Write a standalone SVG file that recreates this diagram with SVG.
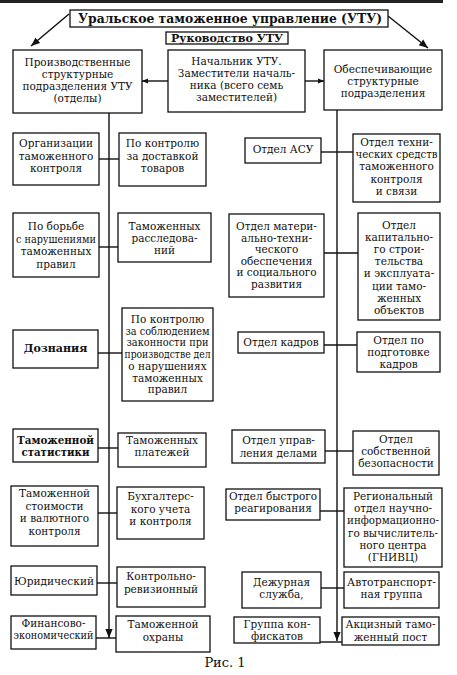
<svg xmlns="http://www.w3.org/2000/svg" width="457" height="675" viewBox="0 0 457 675">
<defs>
<style>
.b{fill:#fff;stroke:#111;stroke-width:1.3}
.t{font-family:"DejaVu Serif","Liberation Serif",serif;font-size:10.5px;text-anchor:middle;fill:#111}
.bold{font-weight:bold}
.c{fill:none;stroke:#111;stroke-width:1.4}
</style>
<marker id="ah" viewBox="0 0 10 10" refX="10" refY="5" markerWidth="9" markerHeight="9" markerUnits="userSpaceOnUse" orient="auto"><path d="M0,1 L10,5 L0,9 z" fill="#111"/></marker>
<marker id="ahs" viewBox="0 0 10 10" refX="10" refY="5" markerWidth="6" markerHeight="6" markerUnits="userSpaceOnUse" orient="auto"><path d="M0,1 L10,5 L0,9 z" fill="#111"/></marker>
</defs>
<rect width="457" height="675" fill="#fff"/>
<line x1="0" y1="1.5" x2="443" y2="1.5" stroke="#222" stroke-width="3"/>

<g id="connectors">
<line class="c" x1="69" y1="14" x2="31" y2="46" marker-end="url(#ah)"/>
<line class="c" x1="388" y1="16" x2="428" y2="48" marker-end="url(#ah)"/>
<line class="c" x1="168" y1="81" x2="142" y2="81" marker-end="url(#ahs)"/>
<line class="c" x1="305" y1="81" x2="324" y2="81" marker-end="url(#ahs)"/>
<line class="c" x1="109" y1="113" x2="109" y2="638" marker-end="url(#ah)"/>
<line class="c" x1="337" y1="110" x2="337" y2="641" marker-end="url(#ah)"/>
<line class="c" x1="99" y1="159" x2="119" y2="159"/>
<line class="c" x1="99" y1="247" x2="118" y2="247"/>
<line class="c" x1="98" y1="353" x2="122" y2="353"/>
<line class="c" x1="98" y1="448" x2="118" y2="448"/>
<line class="c" x1="98" y1="513" x2="117" y2="513"/>
<line class="c" x1="97" y1="583" x2="117" y2="583"/>
<line class="c" x1="96" y1="638" x2="116" y2="638"/>
<line class="c" x1="321" y1="152" x2="353" y2="152"/>
<line class="c" x1="324" y1="253" x2="358" y2="253"/>
<line class="c" x1="324" y1="345" x2="357" y2="345"/>
<line class="c" x1="325" y1="451" x2="353" y2="451"/>
<line class="c" x1="320" y1="511" x2="344" y2="511"/>
<line class="c" x1="321" y1="588" x2="344" y2="588"/>
<line class="c" x1="320" y1="642" x2="342" y2="642"/>
</g>

<g id="title"><rect class="b" x="70" y="10" width="318" height="17"/><text class="t bold" x="230" y="23" textLength="304" lengthAdjust="spacingAndGlyphs" style="font-size:13.5px">Уральское таможенное управление (УТУ)</text></g>
<g id="rukovodstvo"><rect class="b" x="166" y="32" width="122" height="12"/><text class="t bold" x="227" y="42" textLength="112" lengthAdjust="spacingAndGlyphs" style="font-size:11px">Руководство УТУ</text></g>

<g id="prod"><rect class="b" x="13" y="50" width="129" height="63"/><text class="t"><tspan x="77.5" y="66">Производственные</tspan><tspan x="77.5" y="78">структурные</tspan><tspan x="77.5" y="90">подразделения УТУ</tspan><tspan x="77.5" y="102">(отделы)</tspan></text></g>
<g id="nachalnik"><rect class="b" x="168" y="50" width="137" height="62"/><text class="t"><tspan x="236.5" y="65">Начальник УТУ.</tspan><tspan x="236.5" y="77">Заместители началь-</tspan><tspan x="236.5" y="89">ника (всего семь</tspan><tspan x="236.5" y="101">заместителей)</tspan></text></g>
<g id="obesp"><rect class="b" x="324" y="50" width="118" height="60"/><text class="t"><tspan x="383" y="73">Обеспечивающие</tspan><tspan x="383" y="85">структурные</tspan><tspan x="383" y="97">подразделения</tspan></text></g>

<g id="org"><rect class="b" x="13" y="133" width="86" height="52"/><text class="t"><tspan x="56" y="147">Организации</tspan><tspan x="56" y="159.5">таможенного</tspan><tspan x="56" y="172">контроля</tspan></text></g>
<g id="dostavka"><rect class="b" x="119" y="133" width="87" height="53"/><text class="t"><tspan x="162.5" y="147">По контролю</tspan><tspan x="162.5" y="159.5">за доставкой</tspan><tspan x="162.5" y="172">товаров</tspan></text></g>
<g id="borba"><rect class="b" x="13" y="213" width="86" height="64"/><text class="t"><tspan x="56" y="230">По борьбе</tspan><tspan x="56" y="242.5" textLength="80" lengthAdjust="spacingAndGlyphs">с нарушениями</tspan><tspan x="56" y="255">таможенных</tspan><tspan x="56" y="267.5">правил</tspan></text></g>
<g id="rassl"><rect class="b" x="118" y="213" width="93" height="49"/><text class="t"><tspan x="164.5" y="230">Таможенных</tspan><tspan x="164.5" y="242">расследова-</tspan><tspan x="164.5" y="254">ний</tspan></text></g>
<g id="dozn"><rect class="b" x="13" y="330" width="85" height="38"/><text class="t bold" x="55.5" y="352" style="font-size:11px">Дознания</text></g>
<g id="soblyud"><rect class="b" x="122" y="308" width="91" height="93"/><text class="t"><tspan x="167.5" y="323">По контролю</tspan><tspan x="167.5" y="334.7" textLength="84" lengthAdjust="spacingAndGlyphs">за соблюдением</tspan><tspan x="167.5" y="346.4" textLength="82" lengthAdjust="spacingAndGlyphs">законности при</tspan><tspan x="167.5" y="358.1" textLength="86" lengthAdjust="spacingAndGlyphs">производстве дел</tspan><tspan x="167.5" y="369.8">о нарушениях</tspan><tspan x="167.5" y="381.5">таможенных</tspan><tspan x="167.5" y="393.2">правил</tspan></text></g>
<g id="stat"><rect class="b" x="13" y="429" width="85" height="33"/><text class="t bold"><tspan x="55.5" y="444" textLength="77" lengthAdjust="spacingAndGlyphs">Таможенной</tspan><tspan x="55.5" y="456" textLength="68" lengthAdjust="spacingAndGlyphs">статистики</tspan></text></g>
<g id="plat"><rect class="b" x="118" y="433" width="88" height="34"/><text class="t"><tspan x="162" y="444">Таможенных</tspan><tspan x="162" y="456">платежей</tspan></text></g>
<g id="stoim"><rect class="b" x="11" y="486" width="87" height="60"/><text class="t"><tspan x="54.5" y="497">Таможенной</tspan><tspan x="54.5" y="509.5">стоимости</tspan><tspan x="54.5" y="522">и валютного</tspan><tspan x="54.5" y="534.5">контроля</tspan></text></g>
<g id="buh"><rect class="b" x="117" y="487" width="87" height="52"/><text class="t"><tspan x="160.5" y="500">Бухгалтерс-</tspan><tspan x="160.5" y="512.5">кого учета</tspan><tspan x="160.5" y="525">и контроля</tspan></text></g>
<g id="yur"><rect class="b" x="11" y="566" width="86" height="29"/><text class="t" x="54" y="585" textLength="80" lengthAdjust="spacingAndGlyphs">Юридический</text></g>
<g id="krev"><rect class="b" x="117" y="567" width="88" height="40"/><text class="t"><tspan x="161" y="580">Контрольно-</tspan><tspan x="161" y="593">ревизионный</tspan></text></g>
<g id="fin"><rect class="b" x="11" y="616" width="85" height="33"/><text class="t"><tspan x="53.5" y="627">Финансово-</tspan><tspan x="53.5" y="639" textLength="80" lengthAdjust="spacingAndGlyphs">экономический</tspan></text></g>
<g id="ohr"><rect class="b" x="116" y="616" width="94" height="36"/><text class="t"><tspan x="163" y="628">Таможенной</tspan><tspan x="163" y="641">охраны</tspan></text></g>

<g id="asu"><rect class="b" x="245" y="138" width="76" height="25"/><text class="t" x="283" y="153">Отдел АСУ</text></g>
<g id="tech"><rect class="b" x="353" y="134" width="87" height="68"/><text class="t"><tspan x="396.5" y="146">Отдел техни-</tspan><tspan x="396.5" y="158.2" textLength="82" lengthAdjust="spacingAndGlyphs">ческих средств</tspan><tspan x="396.5" y="170.4">таможенного</tspan><tspan x="396.5" y="182.6">контроля</tspan><tspan x="396.5" y="194.8">и связи</tspan></text></g>
<g id="mat"><rect class="b" x="229" y="214" width="95" height="83"/><text class="t"><tspan x="276.5" y="230">Отдел матери-</tspan><tspan x="276.5" y="241.6">ально-техни-</tspan><tspan x="276.5" y="253.2">ческого</tspan><tspan x="276.5" y="264.8">обеспечения</tspan><tspan x="276.5" y="276.4">и социального</tspan><tspan x="276.5" y="288">развития</tspan></text></g>
<g id="kap"><rect class="b" x="358" y="213" width="82" height="107"/><text class="t"><tspan x="399" y="229">Отдел</tspan><tspan x="399" y="241.1">капитально-</tspan><tspan x="399" y="253.2">го строи-</tspan><tspan x="399" y="265.3">тельства</tspan><tspan x="399" y="277.4">и эксплуата-</tspan><tspan x="399" y="289.5">ции тамо-</tspan><tspan x="399" y="301.6">женных</tspan><tspan x="399" y="313.7">объектов</tspan></text></g>
<g id="kadr"><rect class="b" x="238" y="332" width="86" height="21"/><text class="t" x="281" y="346">Отдел кадров</text></g>
<g id="podg"><rect class="b" x="357" y="332" width="83" height="40"/><text class="t"><tspan x="398.5" y="344">Отдел по</tspan><tspan x="398.5" y="356">подготовке</tspan><tspan x="398.5" y="368">кадров</tspan></text></g>
<g id="upr"><rect class="b" x="232" y="430" width="93" height="33"/><text class="t"><tspan x="278.5" y="444">Отдел управ-</tspan><tspan x="278.5" y="456.5">ления делами</tspan></text></g>
<g id="bez"><rect class="b" x="353" y="431" width="86" height="44"/><text class="t"><tspan x="396" y="443">Отдел</tspan><tspan x="396" y="455">собственной</tspan><tspan x="396" y="467">безопасности</tspan></text></g>
<g id="bystr"><rect class="b" x="226" y="489" width="94" height="31"/><text class="t"><tspan x="273" y="500" textLength="88" lengthAdjust="spacingAndGlyphs">Отдел быстрого</tspan><tspan x="273" y="512">реагирования</tspan></text></g>
<g id="gnivc"><rect class="b" x="344" y="488" width="98" height="79"/><text class="t"><tspan x="393" y="500">Региональный</tspan><tspan x="393" y="512.2">отдел научно-</tspan><tspan x="393" y="524.4" textLength="92" lengthAdjust="spacingAndGlyphs">информационно-</tspan><tspan x="393" y="536.6" textLength="90" lengthAdjust="spacingAndGlyphs">го вычислитель-</tspan><tspan x="393" y="548.8">ного центра</tspan><tspan x="393" y="561">(ГНИВЦ)</tspan></text></g>
<g id="dezh"><rect class="b" x="242" y="572" width="79" height="36"/><text class="t"><tspan x="281.5" y="586">Дежурная</tspan><tspan x="281.5" y="598">служба,</tspan></text></g>
<g id="avto"><rect class="b" x="344" y="572" width="95" height="36"/><text class="t"><tspan x="391.5" y="586" textLength="89" lengthAdjust="spacingAndGlyphs">Автотранспорт-</tspan><tspan x="391.5" y="598">ная группа</tspan></text></g>
<g id="konf"><rect class="b" x="234" y="617" width="86" height="26"/><text class="t"><tspan x="277" y="628">Группа кон-</tspan><tspan x="277" y="640">фискатов</tspan></text></g>
<g id="akc"><rect class="b" x="342" y="617" width="97" height="28"/><text class="t"><tspan x="390.5" y="628" textLength="90" lengthAdjust="spacingAndGlyphs">Акцизный тамо-</tspan><tspan x="390.5" y="641">женный пост</tspan></text></g>

<text class="t" x="225" y="667" style="font-size:13px">Рис. 1</text>
</svg>
